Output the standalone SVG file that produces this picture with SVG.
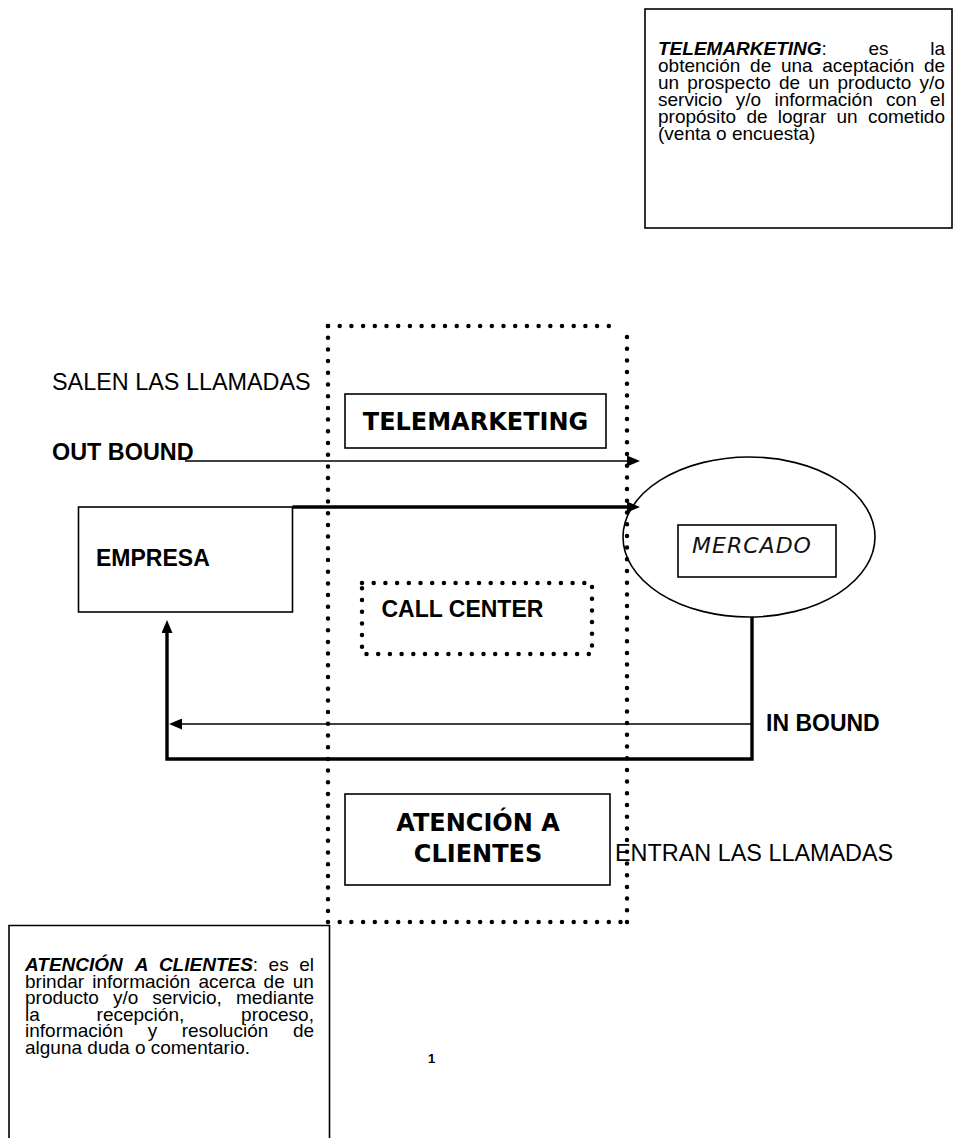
<svg xmlns="http://www.w3.org/2000/svg" width="955" height="1138" viewBox="0 0 955 1138">
<style>
text{font-family:"Liberation Sans",Arial,sans-serif;fill:#000}
.box{fill:none;stroke:#000;stroke-width:1.6}
.dot{fill:none;stroke:#000;stroke-width:4.5;stroke-linecap:round;stroke-dasharray:0 11.7}
.thin{fill:none;stroke:#000;stroke-width:1.6}
.thick{fill:none;stroke:#000;stroke-width:3.4}
.para{font-size:19px}
.bi{font-weight:bold;font-style:italic}
.lbl{font-size:23.4px}
.b{font-weight:bold}
.heavy{font-family:"DejaVu Sans",sans-serif;font-weight:bold;font-size:24px}
</style>
<defs>
<marker id="ah" viewBox="0 0 13 11" refX="0" refY="5.5" markerWidth="13" markerHeight="11" markerUnits="userSpaceOnUse" orient="auto">
<path d="M0,0 L13,5.5 L0,11 z" fill="#000"/>
</marker>
</defs>
<rect width="955" height="1138" fill="#fff"/>

<g id="def-telemarketing">
<rect class="box" x="645" y="9" width="307" height="219"/>
<text class="para"><tspan x="658" y="55"><tspan class="bi">TELEMARKETING</tspan>:</tspan><tspan x="868.5" y="55">es</tspan><tspan x="930.2" y="55">la</tspan></text>
<text class="para"><tspan x="658" y="72">obtención</tspan><tspan x="750.1" y="72">de</tspan><tspan x="780.9" y="72">una</tspan><tspan x="822.3" y="72">aceptación</tspan><tspan x="923.9" y="72">de</tspan></text>
<text class="para"><tspan x="658" y="89">un</tspan><tspan x="687.3" y="89">prospecto</tspan><tspan x="778.9" y="89">de</tspan><tspan x="808.2" y="89">un</tspan><tspan x="837.5" y="89">producto</tspan><tspan x="919.6" y="89">y/o</tspan></text>
<text class="para"><tspan x="658" y="106">servicio</tspan><tspan x="735.8" y="106">y/o</tspan><tspan x="774.5" y="106">información</tspan><tspan x="886.1" y="106">con</tspan><tspan x="930.1" y="106">el</tspan></text>
<text class="para"><tspan x="658" y="123">propósito</tspan><tspan x="746.4" y="123">de</tspan><tspan x="777.7" y="123">lograr</tspan><tspan x="836.5" y="123">un</tspan><tspan x="867.9" y="123">cometido</tspan></text>
<text class="para" x="658" y="140">(venta o encuesta)</text>
</g>

<g id="callcenter-frame">
<line class="dot" x1="328" y1="326" x2="618" y2="326"/>
<line class="dot" x1="627" y1="337" x2="627" y2="928"/>
<line class="dot" x1="328" y1="922" x2="622" y2="922"/>
<line class="dot" x1="328" y1="326" x2="328" y2="922"/>
</g>

<g id="salen">
<text class="lbl" x="52" y="390">SALEN LAS LLAMADAS</text>
</g>
<g id="outbound">
<text class="lbl b" x="52" y="460">OUT BOUND</text>
</g>

<g id="telemarketing">
<rect class="box" x="345" y="394" width="261" height="54"/>
<text class="heavy" x="475.5" y="430" text-anchor="middle">TELEMARKETING</text>
</g>

<g id="empresa">
<rect class="box" x="78.5" y="507" width="214" height="105"/>
<text class="lbl b" x="96" y="566" style="font-size:23px">EMPRESA</text>
</g>

<g id="mercado">
<ellipse class="box" cx="749" cy="537" rx="126" ry="80"/>
<rect class="box" x="678" y="525" width="158" height="52"/>
<text x="752" y="553" text-anchor="middle" style="font-family:'DejaVu Sans',sans-serif;font-weight:200;font-style:italic;font-size:22px;letter-spacing:1px;fill:#111">MERCADO</text>
</g>

<g id="callcenter">
<rect class="dot" x="362" y="583" width="230" height="71"/>
<text class="lbl b" x="381.5" y="617" style="font-size:23px">CALL CENTER</text>
</g>

<g id="inbound">
<text class="lbl b" x="766" y="731" style="font-size:23px">IN BOUND</text>
</g>

<g id="atencion">
<rect class="box" x="345" y="794" width="265" height="91"/>
<text class="heavy" x="478" y="831" text-anchor="middle">ATENCIÓN A</text>
<text class="heavy" x="478" y="862" text-anchor="middle">CLIENTES</text>
</g>

<g id="entran">
<text class="lbl" x="615" y="861">ENTRAN LAS LLAMADAS</text>
</g>

<g id="def-atencion">
<path class="box" d="M9,1140 V925.5 H329.5 V1140"/>
<text class="para"><tspan x="25" y="971" class="bi">ATENCIÓN</tspan><tspan x="134.7" y="971" class="bi">A</tspan><tspan x="158.9" y="971"><tspan class="bi">CLIENTES</tspan>:</tspan><tspan x="268.6" y="971">es</tspan><tspan x="299.2" y="971">el</tspan></text>
<text class="para"><tspan x="25" y="987.5">brindar</tspan><tspan x="92.2" y="987.5">información</tspan><tspan x="198.5" y="987.5">acerca</tspan><tspan x="263.6" y="987.5">de</tspan><tspan x="292.8" y="987.5">un</tspan></text>
<text class="para"><tspan x="25" y="1004">producto</tspan><tspan x="112.9" y="1004">y/o</tspan><tspan x="152.2" y="1004">servicio,</tspan><tspan x="235.9" y="1004">mediante</tspan></text>
<text class="para"><tspan x="25" y="1020.5">la</tspan><tspan x="96.6" y="1020.5">recepción,</tspan><tspan x="241.1" y="1020.5">proceso,</tspan></text>
<text class="para"><tspan x="25" y="1037">información</tspan><tspan x="147.7" y="1037">y</tspan><tspan x="181.7" y="1037">resolución</tspan><tspan x="292.9" y="1037">de</tspan></text>
<text class="para" x="25" y="1053.5">alguna duda o comentario.</text>
</g>

<g id="page-number">
<text x="428" y="1063" style="font-size:13px;font-weight:bold">1</text>
</g>

<g id="connectors">
<path class="thin" d="M185,461 H627" marker-end="url(#ah)"/>
<path class="thick" d="M292.5,507 H627" marker-end="url(#ah)"/>
<path class="thin" d="M752,724 H182" marker-end="url(#ah)"/>
<path class="thick" d="M752,617 V759 H167 V633" marker-end="url(#ah)"/>
</g>
</svg>
